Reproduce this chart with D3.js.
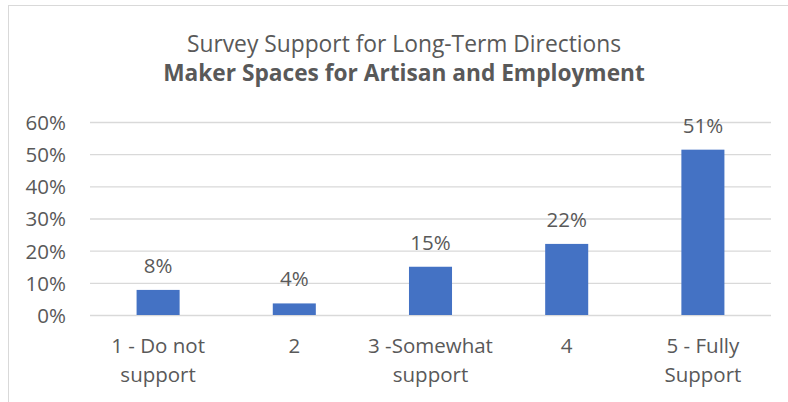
<!DOCTYPE html>
<html>
<head>
<meta charset="utf-8">
<script src="https://cdn.jsdelivr.net/npm/d3@7"></script>
<style>
  html, body { margin: 0; padding: 0; background: #fff; }
  svg { display: block; }
  text { font-family: "Open Sans", "Noto Sans", sans-serif; fill: #595959; }
</style>
</head>
<body>
<svg id="chart" width="788" height="402"></svg>
<script>
// Survey responses: share of respondents per support level
const categories = [["1 - Do not", "support"], ["2"], ["3 -Somewhat", "support"], ["4"], ["5 - Fully", "Support"]];
const shares = [0.078, 0.036, 0.150, 0.221, 0.514];
const yTicks = [0, 0.1, 0.2, 0.3, 0.4, 0.5, 0.6];
const titleLine1 = "Survey Support for Long-Term Directions";
const titleLine2 = "Maker Spaces for Artisan and Employment";

const svg = d3.select("#chart");
const W = 788, H = 402;
const margin = { left: 90, right: 17, top: 122, bottom: 87 };
const labelSize = "20.5px";

// chart frame
svg.append("rect")
  .attr("x", 8.5).attr("y", 5.5)
  .attr("width", W + 20).attr("height", H + 20)
  .attr("fill", "#fff").attr("stroke", "#d9d9d9").attr("stroke-width", 1);

const x = d3.scaleBand()
  .domain(d3.range(categories.length))
  .range([margin.left, W - margin.right])
  .paddingInner(0.684).paddingOuter(0.342);

const y = d3.scaleLinear()
  .domain([0, 0.6])
  .range([H - margin.bottom, margin.top]);

// horizontal gridlines with percent labels
const yAxis = d3.axisLeft(y)
  .tickValues(yTicks)
  .tickFormat(d3.format(".0%"))
  .tickSize(-(W - margin.right - margin.left))
  .tickPadding(24);

const gy = svg.append("g")
  .attr("transform", `translate(${margin.left},0)`)
  .call(yAxis);
gy.select(".domain").remove();
gy.selectAll(".tick line").attr("stroke", "#d9d9d9").attr("stroke-width", 1.3);
gy.selectAll(".tick text")
  .attr("fill", "#595959")
  .style("font-size", labelSize)
  .attr("dy", "0.36em");

// bars
svg.append("g").selectAll("rect")
  .data(shares)
  .join("rect")
  .attr("x", (d, i) => x(i))
  .attr("width", x.bandwidth())
  .attr("y", d => y(d))
  .attr("height", d => y(0) - y(d))
  .attr("fill", "#4472c4");

// value labels
const fmt = d3.format(".0%");
svg.append("g").selectAll("text")
  .data(shares)
  .join("text")
  .attr("x", (d, i) => x(i) + x.bandwidth() / 2)
  .attr("y", d => y(d) - 17)
  .attr("text-anchor", "middle")
  .style("font-size", labelSize)
  .text(d => fmt(d));

// category labels (wrapped onto two lines)
const cat = svg.append("g").selectAll("text")
  .data(categories)
  .join("text")
  .attr("text-anchor", "middle")
  .style("font-size", labelSize);
cat.selectAll("tspan")
  .data((d, i) => d.map(s => ({ s, i })))
  .join("tspan")
  .attr("x", d => x(d.i) + x.bandwidth() / 2)
  .attr("y", (d, j) => 353 + j * 29)
  .text(d => d.s);

// titles
svg.append("text")
  .attr("x", 404).attr("y", 52)
  .attr("text-anchor", "middle")
  .style("font-size", "22.8px")
  .text(titleLine1);
svg.append("text")
  .attr("x", 404).attr("y", 81)
  .attr("text-anchor", "middle")
  .style("font-size", "22.7px")
  .style("font-weight", "bold")
  .text(titleLine2);
</script>
</body>
</html>
